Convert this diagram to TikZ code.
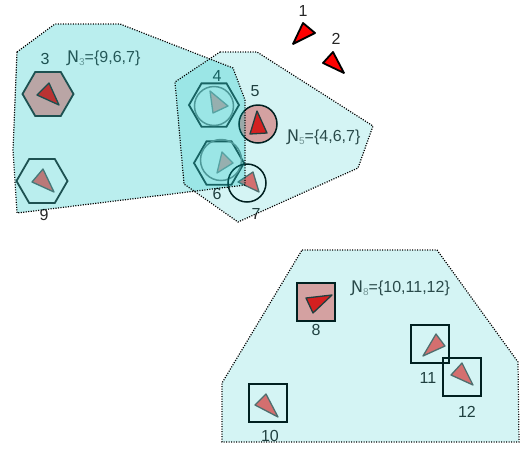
\documentclass[tikz,border=0pt]{standalone}
\usepackage{fontspec}
\setmainfont{Liberation Sans}
\newfontfamily\djv{DejaVu Sans}
\usetikzlibrary{shapes.geometric}
\definecolor{ov}{RGB}{0,192,192}
\definecolor{pinkA}{RGB}{255,155,155}
\definecolor{pinkB}{RGB}{250,165,165}
\definecolor{salmonA}{RGB}{255,95,95}
\definecolor{hexline}{RGB}{40,40,40}
\definecolor{triline}{RGB}{95,95,95}
\definecolor{subgray}{RGB}{140,140,140}
\tikzset{
  hexnode/.style={regular polygon, regular polygon sides=6, minimum size=#1, inner sep=0pt, outer sep=0pt, draw=hexline, line width=1.8pt},
  ringnode/.style={circle, minimum size=#1, inner sep=0pt, draw=gray, line width=1.5pt},
  circnode/.style={circle, minimum size=38pt, inner sep=0pt, draw=black, line width=1.5pt},
  sqnode/.style={rectangle, minimum size=38pt, inner sep=0pt, draw=black, line width=1.7pt},
  tri/.style={line width=1.3pt, line join=round},
  trired/.style={tri, fill=red, draw=black!85},
  tritop/.style={tri, fill=red, draw=black, line width=1.8pt},
  trisal/.style={tri, fill=salmonA, draw=triline},
  tripale/.style={tri, fill=pinkB, draw=triline!70},
  lbl/.style={inner sep=0pt, text=black!85},
  setlbl/.style={inner sep=0pt, anchor=west, text=black!80},
  regionA/.style={fill=ov, fill opacity=0.27, draw=none},
  regionB/.style={fill=ov, fill opacity=0.17, draw=none},
  border/.style={draw=black, line width=1.2pt, dash pattern=on 1.1pt off 1.4pt}
}
\newcommand{\setN}[2]{{\djv Ɲ}\textcolor{subgray}{\fontsize{10}{10}\selectfont\raisebox{-3pt}{#1}}=\{#2\}}
\begin{document}
\begin{tikzpicture}[x=1pt,y=-1pt, font=\fontsize{16}{16}\selectfont]
\useasboundingbox (0,0) rectangle (523,448);

% nodes
\node[hexnode=51pt, fill=pinkA] (h3) at (48,94) {};
\node[hexnode=51pt] (h9) at (42,181) {};
\node[hexnode=50pt] (h4) at (214,105) {};
\node[ringnode=39pt] (c4) at (214,106) {};
\node[hexnode=50pt] (h6) at (219,163) {};
\node[ringnode=41pt] (c6) at (221,160) {};
\node[circnode, fill=pinkA] (c5) at (258,124) {};
\node[circnode] (c7) at (247,183) {};
\node[sqnode, fill=pinkA] (s8) at (316,302) {};
\node[sqnode] (s11) at (430,344) {};
\node[sqnode] (s12) at (462,377) {};
\node[sqnode] (s10) at (268,403) {};

% triangles
\draw[tritop] (303,23) -- (315,33) -- (293,44) -- cycle;
\draw[tritop] (333,52) -- (344,73) -- (323,63) -- cycle;
\draw[trired] (49,83) -- (59,105) -- (37,95) -- cycle;
\draw[trisal] (43,169) -- (54,192) -- (32,182) -- cycle;
\draw[tripale] (210,91) -- (228,106) -- (213,113) -- cycle;
\draw[tripale] (222,152) -- (233,163) -- (217,173) -- cycle;
\draw[trired] (257,111) -- (267,133) -- (250,134) -- cycle;
\draw[trisal] (253,172) -- (259,192) -- (238,182) -- cycle;
\draw[trired] (332,295) -- (313,313) -- (306,298) -- cycle;
\draw[trisal] (436,334) -- (445,346) -- (423,356) -- cycle;
\draw[trisal] (462,363) -- (473,385) -- (451,375) -- cycle;
\draw[trisal] (266,394) -- (278,417) -- (255,405) -- cycle;

% labels
\node[lbl] (l1) at (303,11) {1};
\node[lbl] (l2) at (336,39) {2};
\node[lbl] (l3) at (45,59) {3};
\node[lbl] (l4) at (217,76) {4};
\node[lbl] (l5) at (255,91) {5};
\node[lbl] (l6) at (217,194) {6};
\node[lbl] (l7) at (256,214) {7};
\node[lbl] (l9) at (44,215) {9};
\node[lbl] (l8) at (316,330) {8};
\node[lbl] (l11) at (428,378) {11};
\node[lbl] (l12) at (467,412) {12};
\node[lbl] (l10) at (270,436) {10};
\node[setlbl] (n3) at (67,58) {\setN{3}{9,6,7}};
\node[setlbl] (n5) at (287,137) {\setN{5}{4,6,7}};
\node[setlbl] (n8) at (351,288) {\setN{8}{10,11,12}};

% regions
\path[regionA] (17,52) -- (55,24) -- (120,24) -- (233,68) -- (245,100) -- (245,185) -- (17,213) -- (13,150) -- cycle;
\path[regionB] (220,52) -- (257,52) -- (373,126) -- (358,168) -- (238,222) -- (184,184) -- (175,82) -- cycle;
\path[regionB] (302,250) -- (437,250) -- (518,362) -- (519,442) -- (222,442) -- (222,383) -- cycle;
\draw[border] (17,52) -- (55,24) -- (120,24) -- (233,68) -- (245,100) -- (245,185) -- (17,213) -- (13,150) -- cycle;
\draw[border] (220,52) -- (257,52) -- (373,126) -- (358,168) -- (238,222) -- (184,184) -- (175,82) -- cycle;
\draw[border] (302,250) -- (437,250) -- (518,362) -- (519,442) -- (222,442) -- (222,383) -- cycle;
\end{tikzpicture}
\end{document}
